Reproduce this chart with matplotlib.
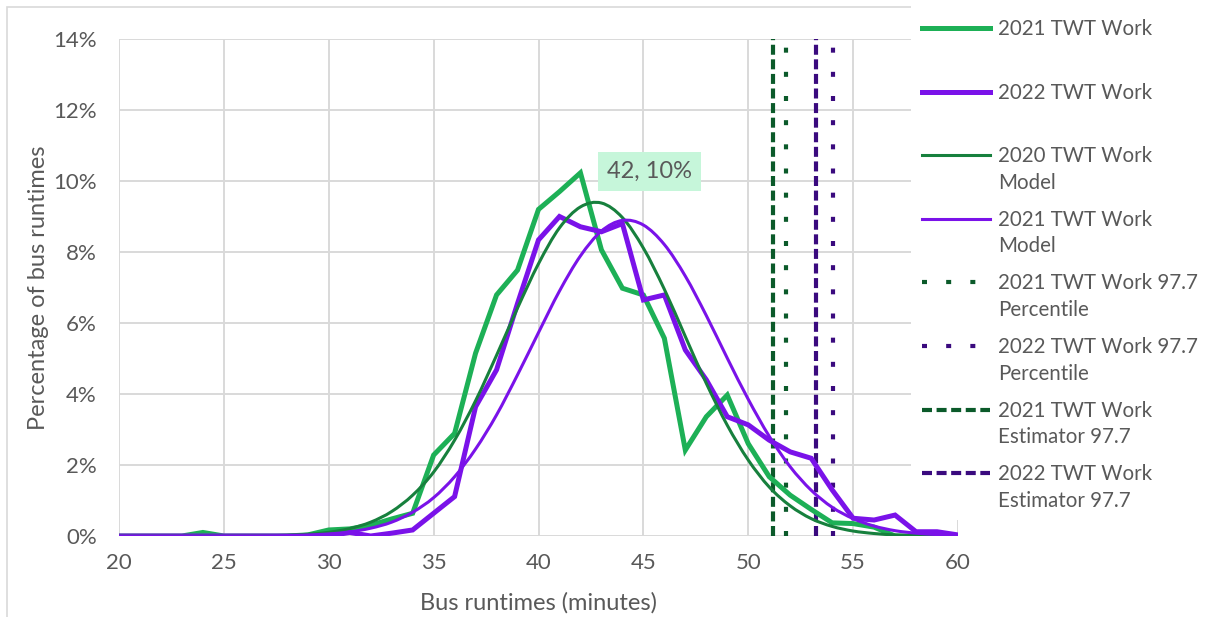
import matplotlib.pyplot as plt
from matplotlib.lines import Line2D
from matplotlib.patches import Rectangle, PathPatch
from matplotlib.path import Path
from matplotlib.ticker import FuncFormatter, MultipleLocator

minutes = list(range(20, 61))

twt_2021 = [0, 0, 0, 0, 0.1, 0, 0, 0, 0, 0.03,
            0.17, 0.2, 0.3, 0.48, 0.64, 2.28, 2.89, 5.15, 6.79, 7.49,
            9.2, 9.7, 10.23, 8.06, 6.98, 6.79, 5.57, 2.42, 3.36, 3.97,
            2.6, 1.67, 1.15, 0.75, 0.37, 0.35, 0.25, 0.0, 0.0, 0.05, 0.0]

twt_2022 = [0, 0, 0, 0, 0, 0, 0, 0, 0, 0,
            0.0, 0.1, 0.0, 0.08, 0.17, 0.64, 1.11, 3.64, 4.68, 6.55,
            8.34, 9.0, 8.71, 8.57, 8.8, 6.65, 6.79, 5.24, 4.4, 3.36,
            3.13, 2.7, 2.37, 2.19, 1.3, 0.5, 0.45, 0.59, 0.12, 0.12, 0.03]

model_2020 = [0, 0, 0, 0, 0, 0.002, 0.005, 0.01, 0.02, 0.05,
              0.105, 0.21, 0.39, 0.69, 1.15, 1.8, 2.7, 3.81, 5.09, 6.42,
              7.67, 8.68, 9.27, 9.38, 8.97, 8.11, 6.95, 5.62, 4.3, 3.12,
              2.14, 1.38, 0.85, 0.49, 0.27, 0.14, 0.07, 0.03, 0.01, 0.005, 0]

model_2021 = [0, 0, 0, 0, 0, 0.001, 0.003, 0.006, 0.013, 0.029,
              0.059, 0.116, 0.22, 0.39, 0.67, 1.08, 1.67, 2.45, 3.41, 4.54,
              5.73, 6.9, 7.89, 8.59, 8.89, 8.76, 8.21, 7.32, 6.21, 5.01,
              3.85, 2.81, 1.95, 1.29, 0.81, 0.49, 0.28, 0.15, 0.08, 0.04, 0.02]

pct_2021 = 51.8
pct_2022 = 54.05
est_2021 = 51.2
est_2022 = 53.25

peak_label = (42, 10.23)

c_green = '#1DB056'
c_purple = '#7A12E9'
c_dgreen = '#17803D'
c_vgreen = '#0B5A2A'
c_vpurple = '#3A0A7E'
c_text = '#595959'

plt.rcParams['font.family'] = ['Lato', 'DejaVu Sans']


def smooth_path(xs, ys):
    # excel-style smoothed line: bezier through the points
    verts = [(xs[0], ys[0])]
    codes = [Path.MOVETO]
    n = len(xs)
    for i in range(n - 1):
        x0, y0 = (xs[i - 1], ys[i - 1]) if i > 0 else (xs[i], ys[i])
        x1, y1 = xs[i], ys[i]
        x2, y2 = xs[i + 1], ys[i + 1]
        x3, y3 = (xs[i + 2], ys[i + 2]) if i + 2 < n else (x2, y2)
        c1 = (x1 + (x2 - x0) / 6, y1 + (y2 - y0) / 6)
        c2 = (x2 - (x3 - x1) / 6, y2 - (y3 - y1) / 6)
        verts += [c1, c2, (x2, y2)]
        codes += [Path.CURVE4] * 3
    return Path(verts, codes)


fig = plt.figure(figsize=(12.06, 6.17), dpi=100)
W, H = 1206, 617
ax = fig.add_axes([119 / W, 1 - 536 / H, (958 - 119) / W, (536 - 39) / H])

ax.plot(minutes, twt_2021, color=c_green, lw=3.6, solid_joinstyle='miter', zorder=3)
ax.plot(minutes, twt_2022, color=c_purple, lw=3.6, solid_joinstyle='miter', zorder=3)
ax.add_patch(PathPatch(smooth_path(minutes, model_2020), fill=False, ec=c_dgreen, lw=2.2, zorder=4))
ax.add_patch(PathPatch(smooth_path(minutes, model_2021), fill=False, ec=c_purple, lw=2.2, zorder=4))

ax.axvline(pct_2021, color=c_vgreen, lw=3, dashes=(1.2, 4.6), zorder=2)
ax.axvline(pct_2022, color=c_vpurple, lw=3, dashes=(1.2, 4.6), zorder=2)
ax.axvline(est_2021, color=c_vgreen, lw=3, dashes=(2.4, 1.1), zorder=2)
ax.axvline(est_2022, color=c_vpurple, lw=3, dashes=(2.4, 1.1), zorder=2)

ax.annotate(f'{peak_label[0]}, {round(peak_label[1])}%', xy=peak_label,
            xytext=(50, 1), textcoords='offset points', ha='center', va='center',
            fontsize=17, color=c_text,
            bbox=dict(boxstyle='square,pad=0.38', fc='#C6F6DA', ec='none'), zorder=6)

ax.set_xlim(20, 60)
ax.set_ylim(0, 14)
ax.xaxis.set_major_locator(MultipleLocator(5))
ax.yaxis.set_major_locator(MultipleLocator(2))
ax.yaxis.set_major_formatter(FuncFormatter(lambda v, p: f'{v:.0f}%'))
ax.grid(True, color='#D9D9D9', lw=1.4)
ax.set_axisbelow(True)
for s in ax.spines.values():
    s.set_visible(False)
ax.tick_params(length=0, labelsize=16, colors=c_text, pad=12)
ax.tick_params(axis='y', pad=16)
ax.set_xlabel('Bus runtimes (minutes)', fontsize=17, color=c_text, labelpad=14)
ax.set_ylabel('Percentage of bus runtimes', fontsize=17, color=c_text, labelpad=3)

# chart frame
fig.add_artist(Rectangle((7 / W, -0.1), 1.2, 1 - 7 / H + 0.1, transform=fig.transFigure,
                         fill=False, ec='#D9D9D9', lw=1.2, zorder=1))

# legend area (covers part of plot)
fig.add_artist(Rectangle((911 / W, 1 - 520 / H), 1, 520 / H, transform=fig.transFigure,
                         fc='white', ec='none', zorder=5))

legend_items = [
    ('2021 TWT Work', c_green, 3.6, None),
    ('2022 TWT Work', c_purple, 3.6, None),
    ('2020 TWT Work\nModel', c_dgreen, 2.2, None),
    ('2021 TWT Work\nModel', c_purple, 2.2, None),
    ('2021 TWT Work 97.7\nPercentile', c_vgreen, 3, (1.2, 4.6)),
    ('2022 TWT Work 97.7\nPercentile', c_vpurple, 3, (1.2, 4.6)),
    ('2021 TWT Work\nEstimator 97.7', c_vgreen, 3, (2.4, 1.1)),
    ('2022 TWT Work\nEstimator 97.7', c_vpurple, 3, (2.4, 1.1)),
]
for i, (lab, col, lw, dash) in enumerate(legend_items):
    ypx = 28 + i * 63.6
    y = 1 - ypx / H
    ln = Line2D([922 / W, 990 / W], [y, y], transform=fig.transFigure, color=col, lw=lw, zorder=6)
    if dash:
        ln.set_dashes(dash)
    fig.add_artist(ln)
    for k, part in enumerate(lab.split('\n')):
        fig.text(998 / W, 1 - (ypx + 1 + k * 26.5) / H, part, fontsize=14.8, color=c_text,
                 va='center', ha='left', zorder=6)

fig.savefig('out.png', dpi=100)
